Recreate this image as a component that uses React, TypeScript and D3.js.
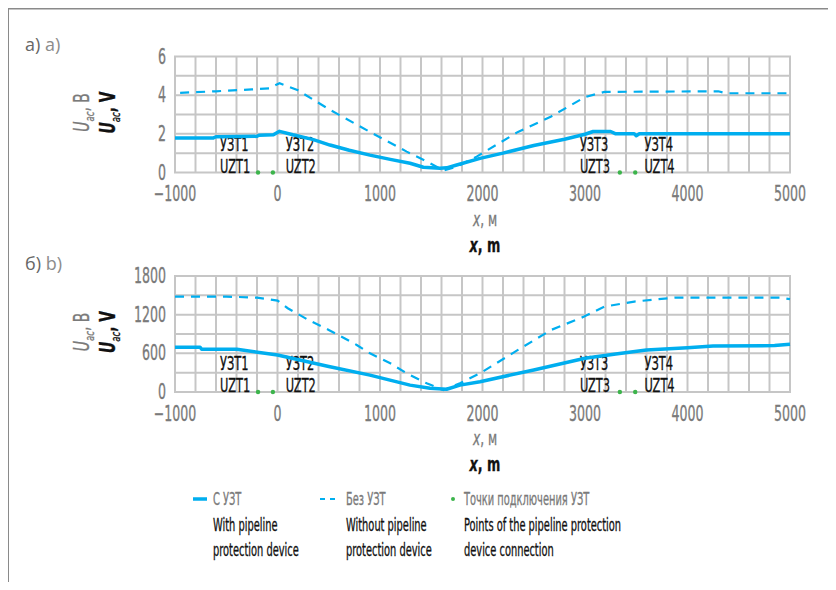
import React, { useEffect, useRef } from 'react';
import * as d3 from 'd3';

// x positions, m
const xTicks = [-1000, 0, 1000, 2000, 3000, 4000, 5000];

// panel a) — voltage, V
const aTicks = [0, 2, 4, 6];
const aWithX = [-1000, -630, -600, -200, -180, -40, 20, 150, 350, 512, 700, 902, 1100, 1293, 1423, 1585, 1650, 1748, 1976, 2200, 2500, 2800, 3000, 3080, 3250, 3300, 3480, 3500, 3530, 5000];
const aWithY = [1.78, 1.78, 1.85, 1.87, 1.93, 1.95, 2.13, 1.95, 1.7, 1.42, 1.15, 0.9, 0.68, 0.48, 0.27, 0.22, 0.24, 0.39, 0.73, 1.0, 1.4, 1.72, 1.98, 2.12, 2.12, 2.0, 2.0, 1.9, 2.0, 2.0];
const aWithoutX = [-950, -600, -250, -80, 20, 200, 512, 902, 1260, 1488, 1618, 1748, 1943, 2346, 2670, 3000, 3190, 4300, 4380, 5000];
const aWithoutY = [4.12, 4.2, 4.3, 4.35, 4.62, 4.25, 3.24, 2.1, 1.08, 0.48, 0.1, 0.3, 0.82, 2.1, 2.9, 3.9, 4.17, 4.2, 4.1, 4.1];

// panel b) — voltage, V
const bTicks = [0, 600, 1200, 1800];
const bWithX = [-1000, -755, -740, -396, 0, 500, 902, 1293, 1488, 1650, 1780, 1976, 2500, 3000, 3300, 3600, 4000, 4250, 4850, 5000];
const bWithY = [695, 695, 663, 663, 575, 395, 262, 107, 57, 42, 107, 160, 342, 524, 590, 653, 688, 715, 720, 741];
const bWithoutX = [-1000, -500, -200, 0, 100, 300, 500, 773, 902, 1100, 1260, 1455, 1618, 1780, 1976, 2346, 2670, 2992, 3190, 3481, 3873, 4900, 5000];
const bWithoutY = [1480, 1480, 1465, 1419, 1300, 1119, 963, 730, 601, 446, 290, 135, 31, 135, 290, 653, 963, 1170, 1325, 1403, 1465, 1465, 1442];

// connection points of the pipeline protection devices
const pointsX = [-190, -45, 3340, 3490];
const devicesRu = ['УЗТ1', 'УЗТ2', 'УЗТ3', 'УЗТ4'];
const devicesEn = ['UZT1', 'UZT2', 'UZT3', 'UZT4'];
const deviceLabelX = [-560, 80, 2950, 3580];

const BLUE = '#00aeef';
const GREEN = '#3cb44b';
const GRID = '#c6c6c6';

// condensed text: squeeze DejaVu Sans horizontally, slightly thickened
const nt = (parent: any, x: number, y: number, size: number, sq: number, color: string, extra = '') =>
  parent.append('g').attr('transform', `translate(${x},${y}) ${extra} scale(${sq},1)`)
    .append('text').style('font-family', "'DejaVu Sans', sans-serif").style('font-size', `${size}px`)
    .attr('fill', color).attr('stroke', color).attr('stroke-width', 0.35);

const App = () => {
  const ref = useRef<SVGSVGElement>(null);

  useEffect(() => {
    if (ref.current) draw();
  }, []);

  const draw = () => {
    const svg = d3.select(ref.current);
    svg.selectAll('*').remove();

    // frame lines (top and left)
    svg.append('line').attr('x1', 8).attr('x2', 836).attr('y1', 8.5).attr('y2', 8.5)
      .attr('stroke', '#8a8a8a').attr('stroke-width', 2);
    svg.append('line').attr('x1', 8).attr('x2', 8).attr('y1', 8).attr('y2', 590)
      .attr('stroke', '#8a8a8a').attr('stroke-width', 2);

    const x = d3.scaleLinear().domain([-1000, 5000]).range([175, 790]);

    const panel = (
      top: number, bottom: number, maxY: number, ticks: number[], step: number,
      withX: number[], withY: number[], withoutX: number[], withoutY: number[],
      tagRu: string, tagEn: string
    ) => {
      const y = d3.scaleLinear().domain([0, maxY]).range([bottom, top]);
      const g = svg.append('g');

      // grid
      d3.range(-1000, 5001, 200).forEach(v => {
        g.append('line').attr('x1', x(v)).attr('x2', x(v)).attr('y1', y(0)).attr('y2', y(maxY))
          .attr('stroke', GRID).attr('stroke-width', 2);
      });
      d3.range(0, maxY + step / 2, step).forEach(v => {
        g.append('line').attr('x1', x(-1000) - 1).attr('x2', x(5000) + 1).attr('y1', y(v)).attr('y2', y(v))
          .attr('stroke', GRID).attr('stroke-width', 2);
      });

      // tick labels
      xTicks.forEach(d => {
        nt(g, x(d), bottom + 28.5, 21, 0.6, '#7a7a7a').attr('text-anchor', 'middle')
          .text(d < 0 ? '\u2212' + Math.abs(d) : String(d));
      });
      ticks.forEach(d => {
        nt(g, 166, y(d) + 7, 21, 0.6, '#7a7a7a').attr('text-anchor', 'end').text(String(d));
      });

      // axis titles
      const xt1 = nt(g, 485, bottom + 53, 19, 0.64, '#7a7a7a').attr('text-anchor', 'middle');
      xt1.append('tspan').style('font-style', 'italic').text('x');
      xt1.append('tspan').text(', м');
      const xt2 = nt(g, 485, bottom + 79, 20, 0.64, '#111').attr('text-anchor', 'middle')
        .style('font-weight', 'bold');
      xt2.append('tspan').style('font-style', 'italic').text('x');
      xt2.append('tspan').text(', m');

      const cy = (top + bottom) / 2 - 2;
      const yt1 = nt(g, 89, cy, 21, 0.66, '#7a7a7a', 'rotate(-90)').attr('text-anchor', 'middle');
      yt1.append('tspan').style('font-style', 'italic').text('U');
      yt1.append('tspan').attr('dy', 5).style('font-size', '13px').style('font-style', 'italic').text('ac');
      yt1.append('tspan').attr('dy', -5).text(', В');
      const yt2 = nt(g, 115, cy, 21, 0.66, '#111', 'rotate(-90)').attr('text-anchor', 'middle')
        .style('font-weight', 'bold');
      yt2.append('tspan').style('font-style', 'italic').text('U');
      yt2.append('tspan').attr('dy', 5).style('font-size', '13px').style('font-style', 'italic')
        .style('font-weight', 'normal').text('ac');
      yt2.append('tspan').attr('dy', -5).text(', V');

      // panel tag
      const tag = g.append('text').attr('x', 25).attr('y', top - 6)
        .style('font-family', "'Open Sans', 'DejaVu Sans', sans-serif").style('font-size', '18px');
      tag.append('tspan').attr('fill', '#666').text(tagRu + ' ');
      tag.append('tspan').attr('fill', '#8c8c8c').text(tagEn);

      // device labels
      devicesRu.forEach((t, i) => {
        nt(g, x(deviceLabelX[i]), bottom - 22, 19, 0.6, '#111').text(t);
        nt(g, x(deviceLabelX[i]), bottom, 19, 0.6, '#111').text(devicesEn[i]);
      });

      const mk = (xs: number[], ys: number[]) =>
        d3.line<number>().x(d => x(d)).y((d, i) => y(ys[i]))(xs) || '';

      g.append('path').attr('d', mk(withoutX, withoutY)).attr('fill', 'none')
        .attr('stroke', BLUE).attr('stroke-width', 2.2).attr('stroke-dasharray', '9,7');
      g.append('path').attr('d', mk(withX, withY)).attr('fill', 'none')
        .attr('stroke', BLUE).attr('stroke-width', 3.5).attr('stroke-linejoin', 'round');

      g.selectAll('.pt').data(pointsX).enter().append('circle')
        .attr('cx', d => x(d)).attr('cy', y(0)).attr('r', 2.2).attr('fill', GREEN);
    };

    panel(56.5, 172.5, 6, aTicks, 1, aWithX, aWithY, aWithoutX, aWithoutY, 'а)', 'a)');
    panel(276, 392, 1800, bTicks, 300, bWithX, bWithY, bWithoutX, bWithoutY, 'б)', 'b)');

    // legend
    const lg = svg.append('g');
    lg.append('line').attr('x1', 193).attr('x2', 207).attr('y1', 499).attr('y2', 499)
      .attr('stroke', BLUE).attr('stroke-width', 3.5);
    lg.append('line').attr('x1', 320).attr('x2', 336).attr('y1', 499).attr('y2', 499)
      .attr('stroke', BLUE).attr('stroke-width', 2.2).attr('stroke-dasharray', '5,5');
    lg.append('circle').attr('cx', 453).attr('cy', 499).attr('r', 2).attr('fill', GREEN);

    const items = [
      { x: 213, ru: 'С УЗТ', en: ['With pipeline', 'protection device'] },
      { x: 346, ru: 'Без УЗТ', en: ['Without pipeline', 'protection device'] },
      { x: 464, ru: 'Точки подключения УЗТ', en: ['Points of the pipeline protection', 'device connection'] },
    ];
    items.forEach(it => {
      nt(lg, it.x, 505, 17, 0.58, '#7a7a7a').text(it.ru);
      it.en.forEach((t, i) => {
        nt(lg, it.x, 531 + i * 25, 17, 0.58, '#111').text(t);
      });
    });
  };

  return (
    <div style={{ width: 836, height: 590, margin: -8, background: '#fff' }}>
      <svg ref={ref} width={836} height={590} style={{ display: 'block' }} />
    </div>
  );
};

export default App;
